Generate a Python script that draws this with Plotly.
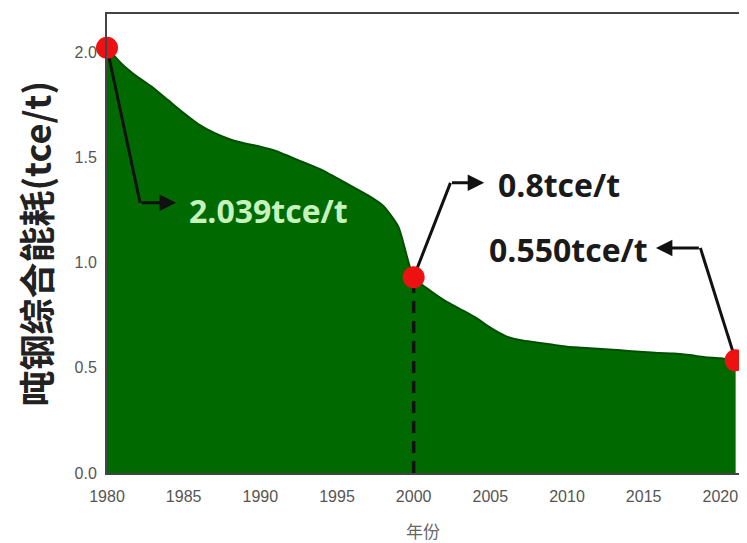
import plotly.graph_objects as go

years = list(range(1980, 2022))
energy = [2.02, 1.94, 1.88, 1.83, 1.77, 1.71, 1.655, 1.615, 1.585, 1.565,
          1.55, 1.53, 1.50, 1.47, 1.44, 1.40, 1.36, 1.32, 1.27, 1.17,
          0.93, 0.87, 0.82, 0.78, 0.74, 0.69, 0.65, 0.63, 0.62, 0.61,
          0.60, 0.595, 0.59, 0.585, 0.58, 0.575, 0.57, 0.568, 0.56, 0.55,
          0.545, 0.535]

key_years = [1980, 2000, 2021]
key_labels = ["2.039tce/t", "0.8tce/t", "0.550tce/t"]
# annotation layout: elbow point, arrow tip, text anchor (data units)
elbows = [(1982.16, 1.283), (2002.4, 1.378), (2018.7, 1.069)]
tips = [(1984.5, 1.283), (2004.6, 1.378), (2015.8, 1.069)]
text_pos = [(1985.2, 1.245), (2005.4, 1.37), (2015.4, 1.06)]
text_colors = ["#c6f3bd", "#1a1a1a", "#1a1a1a"]
text_anchor = ["left", "left", "right"]

x_title = "年份"
y_title = "吨钢综合能耗(tce/t)"

key_vals = [energy[years.index(y)] for y in key_years]

fig = go.Figure()
fig.add_trace(go.Scatter(x=years, y=energy, mode="lines", fill="tozeroy",
                         fillcolor="#006a00",
                         line=dict(color="#005000", width=2, shape="spline", smoothing=0.6),
                         hoverinfo="skip", showlegend=False))
# dashed line at 2000
fig.add_trace(go.Scatter(x=[key_years[1], key_years[1]], y=[0, key_vals[1]], mode="lines",
                         line=dict(color="#111111", width=3.5, dash="12px,8px"),
                         showlegend=False, hoverinfo="skip"))
# connector segments
for (kx, kv), (ex, ey) in zip(zip(key_years, key_vals), elbows):
    fig.add_trace(go.Scatter(x=[kx, ex], y=[kv, ey], mode="lines",
                             line=dict(color="#111111", width=3), showlegend=False,
                             hoverinfo="skip", cliponaxis=False))
fig.add_trace(go.Scatter(x=key_years, y=key_vals, mode="markers",
                         marker=dict(color="#ee1111", size=22), showlegend=False,
                         cliponaxis=False))

for (ex, ey), (tx, ty) in zip(elbows, tips):
    fig.add_annotation(x=tx, y=ty, ax=ex, ay=ey, axref="x", ayref="y", xref="x", yref="y",
                       text="", showarrow=True, arrowhead=2, arrowsize=1.1, arrowwidth=3,
                       arrowcolor="#111111")
for (px, py), lab, col, anc in zip(text_pos, key_labels, text_colors, text_anchor):
    fig.add_annotation(x=px, y=py, xref="x", yref="y", text="<b>" + lab + "</b>",
                       showarrow=False, xanchor=anc, yanchor="middle",
                       font=dict(family="Open Sans, sans-serif", size=32, color=col))

# axis titles as annotations for exact placement
fig.add_annotation(x=0, y=0.5, xref="paper", yref="paper", xshift=-73,
                   text="<b>" + y_title + "</b>", textangle=-90, showarrow=False,
                   xanchor="center", yanchor="middle",
                   font=dict(family="Noto Sans CJK SC", size=36, color="#222222"))
fig.add_annotation(x=2000.6, y=0, xref="x", yref="paper", yshift=-57,
                   text=x_title, showarrow=False, xanchor="center", yanchor="middle",
                   font=dict(family="Noto Sans CJK SC", size=17, color="#666666"))

fig.update_layout(
    width=739, height=535,
    margin=dict(l=99, r=6, t=6, b=70, autoexpand=False),
    paper_bgcolor="white", plot_bgcolor="white",
    xaxis=dict(range=[1980, 2021.35], tickvals=list(range(1980, 2021, 5)),
               showgrid=False, zeroline=False, showline=True, mirror=True,
               linecolor="#444444", linewidth=2, ticks="", automargin=False,
               ticklabelstandoff=8,
               tickfont=dict(family="Liberation Sans, Arial", size=16, color="#555555")),
    yaxis=dict(range=[0, 2.18], tickvals=[0, 0.5, 1.0, 1.5, 2.0],
               ticktext=["0.0", "0.5", "1.0", "1.5", "2.0"],
               showgrid=False, zeroline=False, showline=True, mirror=True,
               linecolor="#444444", linewidth=2, ticks="", automargin=False,
               ticklabelstandoff=5,
               tickfont=dict(family="Liberation Sans, Arial", size=16, color="#555555")),
)

fig.write_html("out.html")
